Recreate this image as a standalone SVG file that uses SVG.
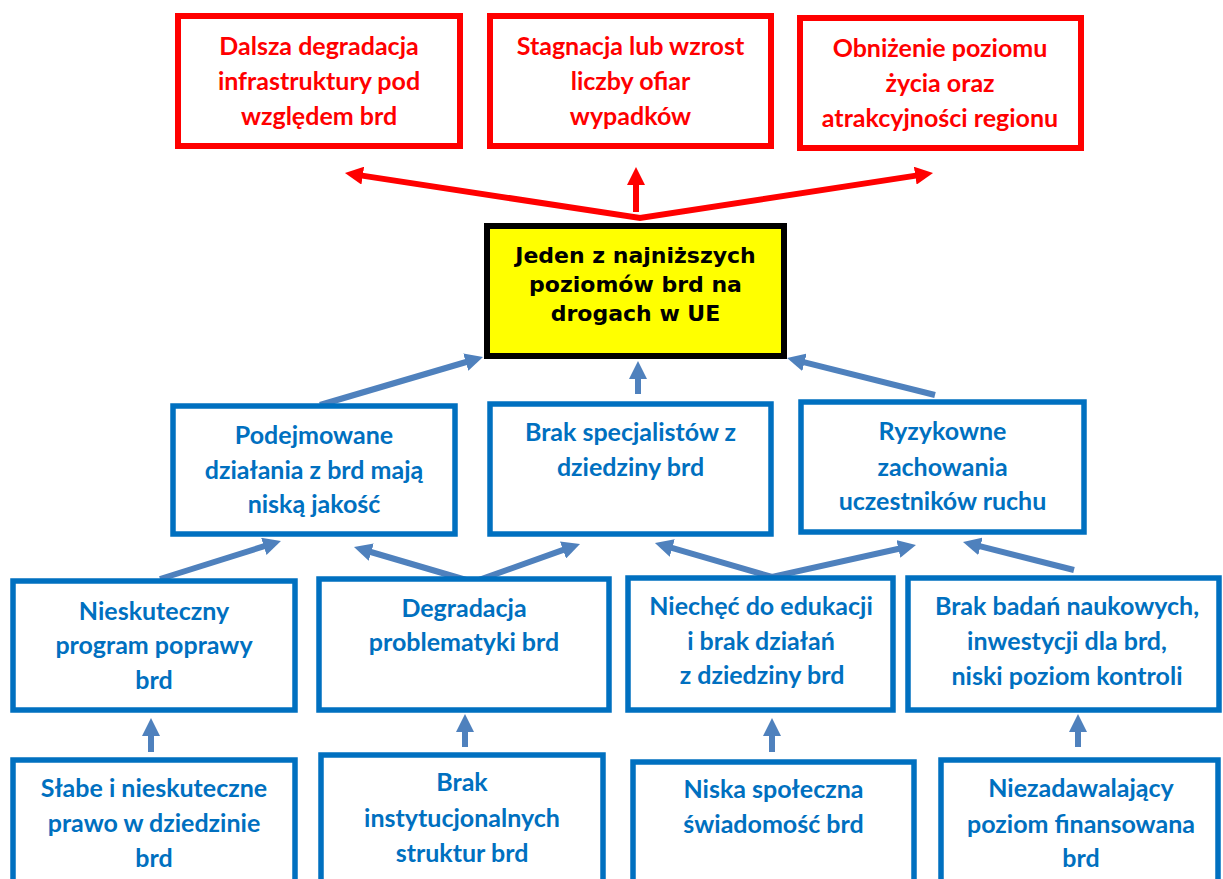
<svg xmlns="http://www.w3.org/2000/svg" width="1223" height="879" viewBox="0 0 1223 879">
<style>
.red rect{fill:#fff;stroke:#FF0000;stroke-width:6}
.blue rect{fill:#fff;stroke:#0070C0;stroke-width:5.5}
.yel rect{fill:#FFFF00;stroke:#000;stroke-width:6}
.red text{fill:#FF0000}
.blue text{fill:#0070C0}
text{font-family:Lato,"Open Sans","Liberation Sans",sans-serif;font-weight:bold;font-size:25px;text-anchor:middle}
.yel text{fill:#000;font-family:"DejaVu Sans",Verdana,sans-serif;font-size:22px}
.ra{fill:none;stroke:#FF0000;stroke-width:6;marker-start:url(#mr);marker-end:url(#mr)}
.ba{fill:none;stroke:#4F81BD;stroke-width:6;marker-start:url(#mb);marker-end:url(#mb)}
.ra1{fill:none;stroke:#FF0000;stroke-width:6;marker-end:url(#mr)}
.ba1{fill:none;stroke:#4F81BD;stroke-width:6;marker-end:url(#mb)}
</style>
<defs>
<marker id="mr" markerUnits="userSpaceOnUse" viewBox="0 0 18 18" markerWidth="18" markerHeight="18" refX="4" refY="9" orient="auto-start-reverse"><path d="M0,0 L18,9 L0,18 z" fill="#FF0000"/></marker>
<marker id="mb" markerUnits="userSpaceOnUse" viewBox="0 0 18 18" markerWidth="18" markerHeight="18" refX="4" refY="9" orient="auto-start-reverse"><path d="M0,0 L18,9 L0,18 z" fill="#4F81BD"/></marker>
</defs>
<rect width="1223" height="879" fill="#fff"/>

<g id="connectors">
<path class="ra" d="M358.8,175.1 L640,218 L919.2,175.1"/>
<path class="ra1" d="M636,212 L636,181"/>
<path class="ba1" d="M320,405 L469.6,361"/>
<path class="ba1" d="M638,394 L638,375"/>
<path class="ba1" d="M935,395 L800.6,361.4"/>
<path class="ba1" d="M160,579 L267.6,545.2"/>
<path class="ba" d="M367.4,551 L473,582 L566.8,548.7"/>
<path class="ba" d="M668.4,546.9 L772,577 L902.3,548"/>
<path class="ba1" d="M1074,570 L976.6,545.4"/>
<path class="ba1" d="M151,752 L151,732"/>
<path class="ba1" d="M465,747 L465,728"/>
<path class="ba1" d="M772,752 L772,732"/>
<path class="ba1" d="M1078,747 L1078,728"/>
</g>

<g id="effect1" class="red"><rect x="178" y="16" width="282" height="130"/>
<text x="319" y="55">Dalsza degradacja</text><text x="319" y="90">infrastruktury pod</text><text x="319" y="125">względem brd</text></g>
<g id="effect2" class="red"><rect x="490" y="16" width="281" height="130"/>
<text x="630.5" y="55">Stagnacja lub wzrost</text><text x="630.5" y="90">liczby ofiar</text><text x="630.5" y="125">wypadków</text></g>
<g id="effect3" class="red"><rect x="800" y="18" width="281" height="130"/>
<text x="940" y="57">Obniżenie poziomu</text><text x="940" y="92">życia oraz</text><text x="940" y="127">atrakcyjności regionu</text></g>

<g id="core" class="yel"><rect x="487" y="226" width="297" height="130"/>
<text x="635.5" y="263">Jeden z najniższych</text><text x="635.5" y="292">poziomów brd na</text><text x="635.5" y="321">drogach w UE</text></g>

<g id="cause-a" class="blue"><rect x="173" y="406" width="282" height="128"/>
<text x="314" y="444">Podejmowane</text><text x="314" y="479">działania z brd mają</text><text x="314" y="513">niską jakość</text></g>
<g id="cause-b" class="blue"><rect x="490" y="404" width="281" height="130"/>
<text x="630.5" y="441">Brak specjalistów z</text><text x="630.5" y="476">dziedziny brd</text></g>
<g id="cause-c" class="blue"><rect x="801" y="402" width="283" height="130"/>
<text x="942.5" y="440">Ryzykowne</text><text x="942.5" y="476">zachowania</text><text x="942.5" y="510">uczestników ruchu</text></g>

<g id="cause-d" class="blue"><rect x="13" y="581" width="282" height="129"/>
<text x="154" y="620">Nieskuteczny</text><text x="154" y="654">program poprawy</text><text x="154" y="689">brd</text></g>
<g id="cause-e" class="blue"><rect x="319" y="579" width="290" height="131"/>
<text x="464" y="617">Degradacja</text><text x="464" y="651">problematyki brd</text></g>
<g id="cause-f" class="blue"><rect x="628" y="578" width="265" height="132"/>
<text x="761" y="615">Niechęć do edukacji</text><text x="761" y="650">i brak działań</text><text x="762" y="684">z dziedziny brd</text></g>
<g id="cause-g" class="blue"><rect x="908" y="578" width="311" height="132"/>
<text x="1067" y="615">Brak badań naukowych,</text><text x="1067" y="650">inwestycji dla brd,</text><text x="1067" y="685">niski poziom kontroli</text></g>

<g id="root-h" class="blue"><rect x="13" y="760" width="282" height="140"/>
<text x="154" y="797">Słabe i nieskuteczne</text><text x="154" y="832">prawo w dziedzinie</text><text x="154" y="867">brd</text></g>
<g id="root-i" class="blue"><rect x="321" y="755" width="282" height="140"/>
<text x="462" y="791">Brak</text><text x="462" y="827">instytucjonalnych</text><text x="462" y="862">struktur brd</text></g>
<g id="root-j" class="blue"><rect x="633" y="762" width="281" height="140"/>
<text x="773.5" y="798">Niska społeczna</text><text x="773.5" y="833">świadomość brd</text></g>
<g id="root-k" class="blue"><rect x="941" y="760" width="277" height="140"/>
<text x="1081" y="797">Niezadawalający</text><text x="1081" y="833">poziom finansowana</text><text x="1081" y="867">brd</text></g>
</svg>
